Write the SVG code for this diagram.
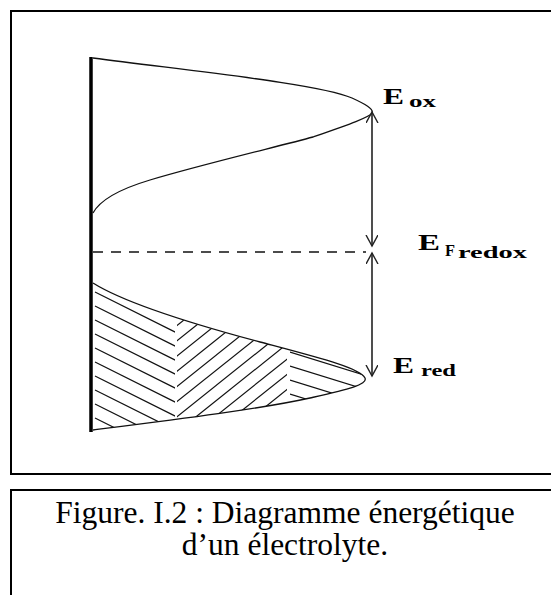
<svg xmlns="http://www.w3.org/2000/svg" width="551" height="595" viewBox="0 0 551 595">
<style>
.frame{fill:none;stroke:#000;stroke-width:2}
.curve{fill:none;stroke:#111;stroke-width:1.3}
.hatch{stroke:#111;stroke-width:1.2}
.arr{fill:none;stroke:#222;stroke-width:1.6}
.lbl{font-family:"Liberation Serif","Times New Roman",serif;font-weight:bold;fill:#000}
.cap{font-family:"Liberation Serif","Times New Roman",serif;font-size:31.5px;fill:#000;text-anchor:middle}
</style>
<defs>
<marker id="ah" markerUnits="userSpaceOnUse" markerWidth="14" markerHeight="14" refX="11" refY="6" orient="auto-start-reverse">
<path d="M0,0 L11,6 L0,12" fill="none" stroke="#222" stroke-width="1.4"/>
</marker>
<clipPath id="lowReg">
<path d="M93,283 C120,300 170,318 260,342 C320,358 360,368 365,378 C368,385 345,390 310,398 C260,409 180,419 93,430 Z"/>
</clipPath>
<clipPath id="zA"><rect x="93" y="270" width="82" height="170"/></clipPath>
<clipPath id="zB"><rect x="177" y="270" width="110" height="170"/></clipPath>
<clipPath id="zC"><rect x="290" y="270" width="90" height="170"/></clipPath>
</defs>
<g id="frame">
<rect class="frame" x="11" y="11" width="560" height="463"/>
</g>
<g id="electrode">
<line x1="91" y1="57" x2="91" y2="432" stroke="#000" stroke-width="3.5"/>
</g>
<g id="ox-curve">
<path class="curve" d="M93,58 C200,72 320,84 352,98 C365,104 374,109 372,113 C370,117 350,124 313,137 C280,146 200,165 150,180 C120,189 100,200 93,213"/>
</g>
<g id="red-curve">
<g clip-path="url(#lowReg)">
<g clip-path="url(#zA)" class="hatch">
<line x1="95" y1="292" x2="185" y2="337"/>
<line x1="95" y1="306" x2="185" y2="351"/>
<line x1="95" y1="320" x2="185" y2="365"/>
<line x1="95" y1="334" x2="185" y2="379"/>
<line x1="95" y1="348" x2="185" y2="393"/>
<line x1="95" y1="362" x2="185" y2="407"/>
<line x1="95" y1="376" x2="185" y2="421"/>
<line x1="95" y1="390" x2="185" y2="435"/>
<line x1="95" y1="404" x2="185" y2="449"/>
<line x1="95" y1="418" x2="185" y2="463"/>
</g>
<g clip-path="url(#zB)" class="hatch">
<line x1="190" y1="300" x2="15" y2="440"/>
<line x1="209" y1="300" x2="34" y2="440"/>
<line x1="228" y1="300" x2="53" y2="440"/>
<line x1="247" y1="300" x2="72" y2="440"/>
<line x1="266" y1="300" x2="91" y2="440"/>
<line x1="285" y1="300" x2="110" y2="440"/>
<line x1="304" y1="300" x2="129" y2="440"/>
<line x1="323" y1="300" x2="148" y2="440"/>
<line x1="342" y1="300" x2="167" y2="440"/>
<line x1="361" y1="300" x2="186" y2="440"/>
<line x1="380" y1="300" x2="205" y2="440"/>
<line x1="399" y1="300" x2="224" y2="440"/>
</g>
<g clip-path="url(#zC)" class="hatch">
<line x1="290" y1="352" x2="380" y2="380"/>
<line x1="290" y1="366" x2="380" y2="394"/>
<line x1="290" y1="380" x2="380" y2="408"/>
<line x1="290" y1="394" x2="380" y2="422"/>
</g>
</g>
<path class="curve" d="M93,283 C120,300 170,318 260,342 C320,358 360,368 365,378 C368,385 345,390 310,398 C260,409 180,419 93,430"/>
</g>
<g id="connectors">
<line x1="93" y1="252" x2="366" y2="252" stroke="#111" stroke-width="1.3" stroke-dasharray="10,8"/>
<line class="arr" x1="372" y1="112" x2="372" y2="246" marker-start="url(#ah)" marker-end="url(#ah)"/>
<line class="arr" x1="372" y1="253" x2="372" y2="376" marker-start="url(#ah)" marker-end="url(#ah)"/>
</g>
<g id="label-Eox">
<text class="lbl" x="383" y="104" font-size="24" textLength="21" lengthAdjust="spacingAndGlyphs">E</text>
<text class="lbl" x="409" y="107" font-size="17" textLength="27" lengthAdjust="spacingAndGlyphs">ox</text>
</g>
<g id="label-EFredox">
<text class="lbl" x="418" y="250" font-size="24" textLength="22" lengthAdjust="spacingAndGlyphs">E</text>
<text class="lbl" x="445" y="256" font-size="16" textLength="10" lengthAdjust="spacingAndGlyphs">F</text>
<text class="lbl" x="458" y="257.5" font-size="17" textLength="69" lengthAdjust="spacingAndGlyphs">redox</text>
</g>
<g id="label-Ered">
<text class="lbl" x="393" y="372.5" font-size="24" textLength="21" lengthAdjust="spacingAndGlyphs">E</text>
<text class="lbl" x="421" y="375.5" font-size="17" textLength="35" lengthAdjust="spacingAndGlyphs">red</text>
</g>
<g id="caption">
<rect class="frame" x="11" y="490" width="560" height="120"/>
<text class="cap" x="285" y="523">Figure. I.2 : Diagramme énergétique</text>
<text class="cap" x="285" y="555">d’un électrolyte.</text>
</g>
</svg>
